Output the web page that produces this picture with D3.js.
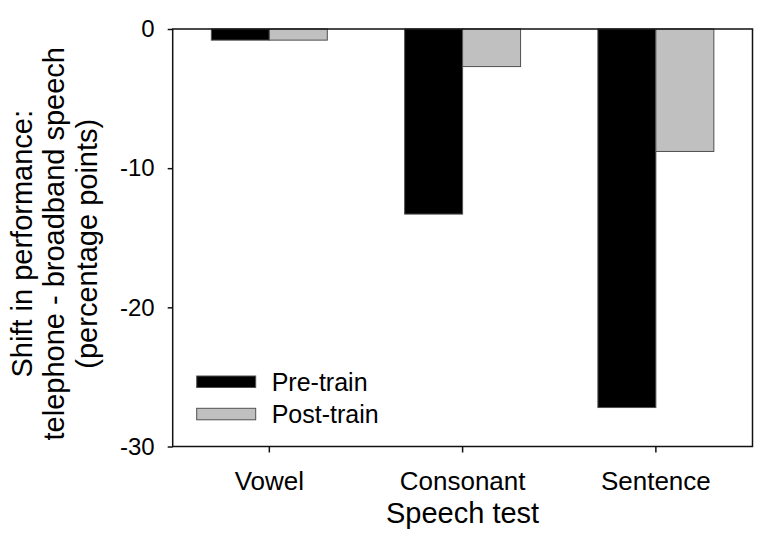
<!DOCTYPE html>
<html>
<head>
<meta charset="utf-8">
<script src="https://cdn.jsdelivr.net/npm/d3@7"></script>
<style>
  html, body { margin: 0; padding: 0; background: #fff; }
  svg { display: block; }
  text { font-family: "Liberation Sans", Arial, Helvetica, sans-serif; fill: #000; }
</style>
</head>
<body>
<svg id="chart" width="782" height="548"></svg>
<script>
// ---- data ----
const categories = ["Vowel", "Consonant", "Sentence"];
const seriesNames = ["Pre-train", "Post-train"];
const preTrain = [-0.8, -13.3, -27.2];
const postTrain = [-0.8, -2.7, -8.8];
const yTicks = [0, -10, -20, -30];
const xTitle = "Speech test";
const yTitleLines = ["Shift in performance:", "telephone - broadband speech", "(percentage points)"];
const seriesColors = ["#000000", "#c0c0c0"];

// ---- layout ----
const W = 782, H = 548;
const M = { left: 172.7, right: W - 752.5, top: 29, bottom: H - 446.5 };
const svg = d3.select("#chart");
const plotW = W - M.left - M.right, plotH = H - M.top - M.bottom;
const g = svg.append("g").attr("transform", `translate(${M.left},${M.top})`);

const x0 = d3.scaleBand().domain(categories).range([0, plotW]).padding(0);
const groupW = x0.step() * 0.6;
const x1 = d3.scaleBand().domain(seriesNames).range([-groupW / 2, groupW / 2]).padding(0);
const y = d3.scaleLinear().domain([-30, 0]).range([plotH, 0]);

const rows = categories.map((c, i) => ({ cat: c, vals: [preTrain[i], postTrain[i]] }));

// bars
const groups = g.selectAll("g.grp").data(rows).join("g")
  .attr("class", "grp")
  .attr("transform", d => `translate(${x0(d.cat) + x0.bandwidth() / 2},0)`);
groups.selectAll("rect").data(d => d.vals.map((v, j) => ({ s: seriesNames[j], v, j }))).join("rect")
  .attr("x", d => x1(d.s))
  .attr("width", x1.bandwidth())
  .attr("y", d => y(Math.max(0, d.v)))
  .attr("height", d => Math.abs(y(d.v) - y(0)))
  .attr("fill", d => seriesColors[d.j])
  .attr("stroke", "#505050")
  .attr("stroke-width", 1);

// frame
g.append("rect")
  .attr("x", 0).attr("y", 0).attr("width", plotW).attr("height", plotH)
  .attr("fill", "none").attr("stroke", "#111").attr("stroke-width", 1.5);

// y axis
const yAxis = g.append("g").call(d3.axisLeft(y).tickValues(yTicks).tickSize(5).tickPadding(13).tickFormat(d => String(d)));
yAxis.select(".domain").remove();
yAxis.selectAll(".tick line").attr("stroke", "#111").attr("stroke-width", 1.5);
yAxis.selectAll(".tick text").attr("font-size", 24).attr("font-family", "Liberation Sans, Arial, sans-serif").attr("fill", "#000");

// x axis
const xAxis = g.append("g").attr("transform", `translate(0,${plotH})`)
  .call(d3.axisBottom(x0).tickSize(6).tickPadding(19));
xAxis.select(".domain").remove();
xAxis.selectAll(".tick line").attr("stroke", "#111").attr("stroke-width", 1.5);
xAxis.selectAll(".tick text").attr("font-size", 26).attr("font-family", "Liberation Sans, Arial, sans-serif").attr("fill", "#000");

// x title
svg.append("text")
  .attr("x", M.left + plotW / 2).attr("y", 523)
  .attr("text-anchor", "middle").attr("font-size", 29)
  .text(xTitle);

// y title
const yTitle = svg.append("text")
  .attr("transform", `translate(31.5,${M.top + plotH / 2 + 6}) rotate(-90)`)
  .attr("text-anchor", "middle").attr("font-size", 29);
yTitle.selectAll("tspan").data(yTitleLines).join("tspan")
  .attr("x", 0).attr("dy", (d, i) => i === 0 ? 0 : 32.5)
  .text(d => d);

// legend
const legend = svg.append("g").attr("transform", "translate(196.7,376)");
const li = legend.selectAll("g").data(seriesNames).join("g")
  .attr("transform", (d, i) => `translate(0,${i * 32.3})`);
li.append("rect").attr("width", 59).attr("height", 11.5)
  .attr("fill", (d, i) => seriesColors[i]).attr("stroke", "#505050").attr("stroke-width", 1);
li.append("text").attr("x", 75).attr("y", 14.7).attr("font-size", 25).text(d => d);
</script>
</body>
</html>
